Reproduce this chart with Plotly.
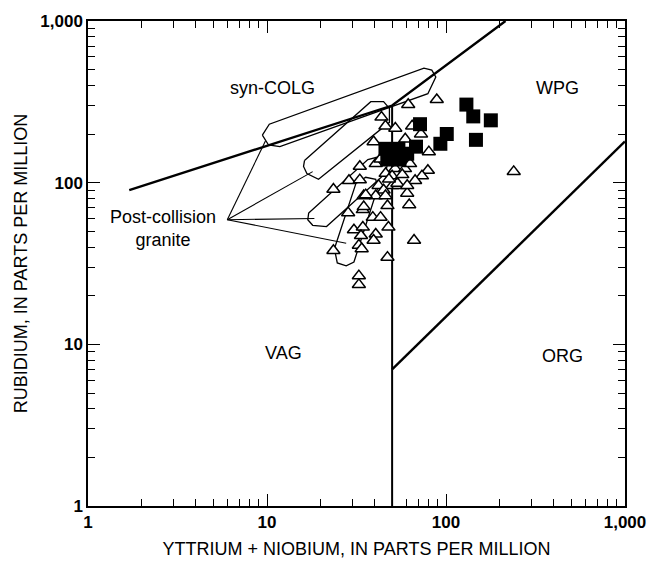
import plotly.graph_objects as go
import numpy as np

# ---- data ----
tri_x = [88.8, 61.5, 43.6, 45.9, 52.1, 64.7, 72.5, 59.2, 39.4, 80.2, 239, 33, 40.5, 79.2, 73.4,
         67.2, 28.7, 33, 23.5, 60.7, 62.3, 50.2, 54.2, 42, 44.8, 34.7, 40.5, 45.9, 47.1, 34.3,
         34.7, 28.4, 39, 43.1, 47.7, 30.6, 34.3, 40.5, 33.5, 39.4, 66.3, 23.5, 32.6, 33.8, 47.1,
         32.6, 32.6, 53.5, 60.7, 35.6, 49, 56, 52, 46, 59, 63, 43, 50, 57, 48]
tri_y = [326, 304, 254, 224, 217, 224, 200, 186, 179, 155, 117, 126, 131, 119, 110,
         103, 103, 104, 91, 86, 73, 96, 96, 96, 90, 83, 83, 83, 72, 68,
         71, 65, 61, 61, 53, 51, 53, 48, 47, 44, 44, 38, 41, 39, 34.5,
         26.5, 23.4, 99, 96, 84, 150, 140, 122, 114, 122, 131, 140, 110, 112, 105]

sq_x = [130, 142, 178, 147, 101, 93, 71.6, 68, 45.9, 54.2, 47, 55, 60.7]
sq_y = [304, 257, 243, 184, 200, 174, 230, 167, 162, 162, 139, 139, 151]

# field boundaries
bnd1_x = [1.7, 50, 215]
bnd1_y = [90, 300, 1000]
bnd2_x = [50, 50]
bnd2_y = [1, 300]
bnd3_x = [50, 1000]
bnd3_y = [7, 180]

# post-collision granite fields
poly1_x = [9.42, 10.3, 75.3, 83.3, 87.7, 79.2, 11.8, 10.2]
poly1_y = [197, 230, 511, 497, 451, 355, 167, 171]
poly2_x = [16.2, 38, 44.8, 48.3, 48.3, 19.4, 16.7, 16.0]
poly2_y = [137, 317, 317, 288, 236, 105, 114, 126]
poly3_x = [17.1, 36.6, 42.6, 47.1, 45.9, 21.5, 18, 16.9]
poly3_y = [65, 139, 145, 131, 114, 53.5, 54.5, 59]
poly4_x = [23.8, 31.4, 35.6, 40.5, 41.5, 30.6, 27.7, 24.7]
poly4_y = [39, 99, 108, 105, 92.5, 32.3, 30.6, 31.9]

apex_x, apex_y = 6.0, 59
leader_x = [9.8, 18, 18.4, 27.7]
leader_y = [181, 117, 60, 42.2]

tick_vals = [1, 10, 100, 1000]
tick_text = ["1", "10", "100", "1,000"]
minor_vals = [m * d for d in (1, 10, 100) for m in range(2, 10)]

fig = go.Figure()

def line(xs, ys, w):
    fig.add_trace(go.Scatter(x=xs, y=ys, mode="lines",
                             line=dict(color="black", width=w),
                             showlegend=False, hoverinfo="skip"))

for px, py in [(poly1_x, poly1_y), (poly2_x, poly2_y), (poly3_x, poly3_y), (poly4_x, poly4_y)]:
    line(px + [px[0]], py + [py[0]], 1.3)

for lx, ly in zip(leader_x, leader_y):
    line([apex_x, lx], [apex_y, ly], 1.1)

line(bnd1_x, bnd1_y, 2.4)
line(bnd2_x, bnd2_y, 2.0)
line(bnd3_x, bnd3_y, 2.4)

fig.add_trace(go.Scatter(x=tri_x, y=tri_y, mode="markers",
                         marker=dict(symbol="triangle-up", size=11.5, color="white",
                                     line=dict(color="black", width=1.5)),
                         showlegend=False))
fig.add_trace(go.Scatter(x=sq_x, y=sq_y, mode="markers",
                         marker=dict(symbol="square", size=14, color="black",
                                     line=dict(color="black", width=0)),
                         showlegend=False))

lab_font = dict(family="Liberation Sans, Arial", size=18, color="black")
labels = [("syn-COLG", 10.7, 386), ("WPG", 417, 386), ("VAG", 12.4, 8.9),
          ("ORG", 450, 8.5), ("Post-collision<br>granite", 2.62, 52)]
for t, x, y in labels:
    fig.add_annotation(x=np.log10(x), y=np.log10(y), xref="x", yref="y", text=t,
                       showarrow=False, font=lab_font, align="center")

axis_common = dict(type="log", range=[0, 3], tickvals=tick_vals, ticktext=tick_text,
                   ticks="inside", ticklen=12, tickwidth=1.2, tickcolor="black",
                   showline=True, linecolor="black", linewidth=1.5, mirror="ticks",
                   showgrid=False, zeroline=False,
                   tickfont=dict(family="Liberation Sans, Arial", size=17, color="black", weight="bold"),
                   minor=dict(tickvals=minor_vals, ticks="inside", ticklen=7,
                              tickwidth=1, tickcolor="black", showgrid=False))

fig.update_xaxes(**axis_common,
                 title=dict(text="YTTRIUM + NIOBIUM, IN PARTS PER MILLION",
                            font=dict(family="Liberation Sans, Arial", size=18, color="black"),
                            standoff=11))
fig.update_yaxes(**axis_common,
                 title=dict(text="RUBIDIUM, IN PARTS PER MILLION",
                            font=dict(family="Liberation Sans, Arial", size=18, color="black"),
                            standoff=8))

fig.update_layout(width=658, height=568, margin=dict(l=88, r=25, t=16, b=60),
                  plot_bgcolor="white", paper_bgcolor="white", showlegend=False)

fig.write_html("out.html")
